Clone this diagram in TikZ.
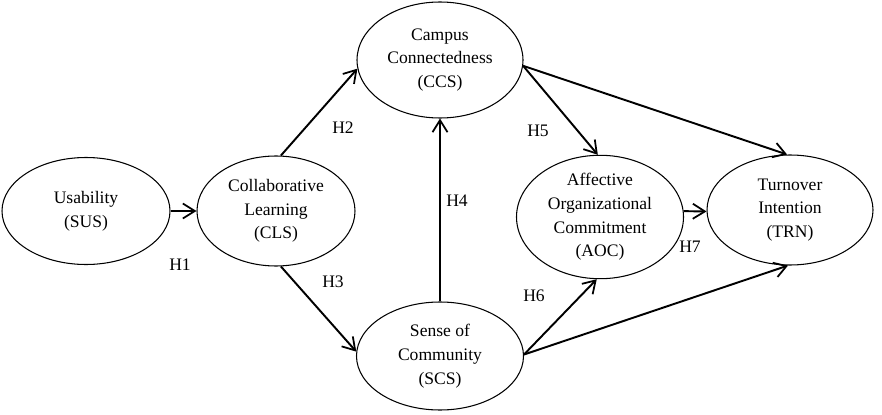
\documentclass[tikz,border=0pt]{standalone}
\usepackage{fontspec}
\setmainfont{Liberation Serif}
\usepackage{tikz}
\usetikzlibrary{arrows.meta,shapes.geometric}
\tikzset{
  latent/.style={ellipse, draw, line width=0.6pt, align=center, inner sep=0pt},
  hpath/.style={-{Straight Barb[length=2.4mm,width=3mm,line width=1pt]}, line width=1.1pt},
  hlab/.style={inner sep=0pt},
}
\begin{document}
\begin{tikzpicture}[font=\fontsize{10}{13.5}\selectfont]
\useasboundingbox (0,0) rectangle (17.64,8.28);
% constructs
\node[latent, minimum width=3.36cm, minimum height=2.14cm] (sus) at (1.72,4.06) {Usability\\(SUS)};
\node[latent, minimum width=3.16cm, minimum height=2.2cm] (cls) at (5.52,4.06) {Collaborative\\Learning\\(CLS)};
\node[latent, minimum width=3.32cm, minimum height=2.32cm] (ccs) at (8.8,7.08) {Campus\\Connectedness\\(CCS)};
\node[latent, minimum width=3.34cm, minimum height=2.16cm] (scs) at (8.8,1.16) {Sense of\\Community\\(SCS)};
\node[latent, minimum width=3.34cm, minimum height=2.32cm] (aoc) at (12.0,3.94) {Affective\\Organizational\\Commitment\\(AOC)};
\node[latent, minimum width=3.32cm, minimum height=2.2cm] (trn) at (15.8,4.08) {Turnover\\Intention\\(TRN)};
% hypothesised paths
\draw[hpath] (sus.east) -- (cls.west);
\draw[hpath] (cls.85) -- (ccs.186);
\draw[hpath] (cls.275) -- (scs.177);
\draw[hpath] (scs.north) -- (ccs.south);
\draw[hpath] (ccs.356) -- (aoc.92);
\draw[hpath] (ccs.356) -- (trn.93);
\draw[hpath] (scs.1) -- (aoc.267);
\draw[hpath] (scs.1) -- (trn.268);
\draw[hpath] (aoc.4) -- (trn.181);
% labels
\node[hlab] (h1) at (3.6,2.98) {H1};
\node[hlab] (h2) at (6.86,5.72) {H2};
\node[hlab] (h3) at (6.66,2.64) {H3};
\node[hlab] (h4) at (9.14,4.26) {H4};
\node[hlab] (h5) at (10.76,5.66) {H5};
\node[hlab] (h6) at (10.68,2.36) {H6};
\node[hlab] (h7) at (13.8,3.34) {H7};
\end{tikzpicture}
\end{document}
